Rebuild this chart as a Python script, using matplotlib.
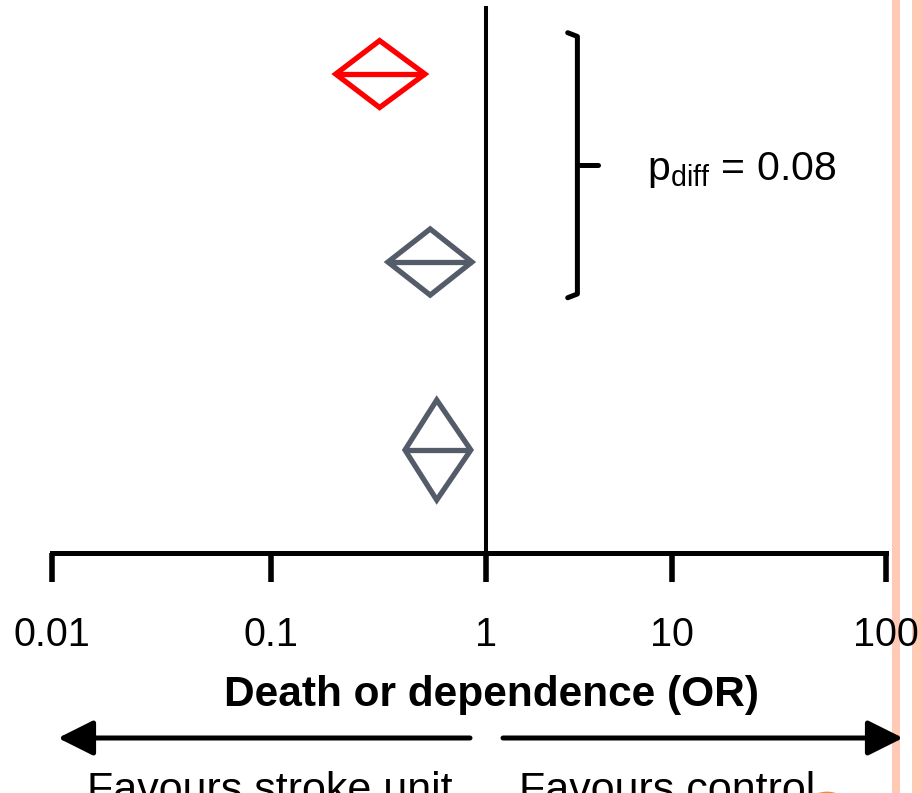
import numpy as np
import matplotlib
matplotlib.use("Agg")
import matplotlib.pyplot as plt
from matplotlib.patches import Rectangle, Circle, FancyArrowPatch, Polygon

plt.rcParams['font.family'] = ['Liberation Sans', 'DejaVu Sans']
plt.rcParams['mathtext.fontset'] = 'custom'
plt.rcParams['mathtext.rm'] = 'Liberation Sans'

# pooled odds ratios (estimate with 95% CI), top to bottom
or_est = [0.32, 0.55, 0.59]
or_lo = [0.20, 0.35, 0.42]
or_hi = [0.52, 0.86, 0.85]
row_pos = [2, 1, 0]
half_height = [0.178, 0.176, 0.266]
diamond_colors = ['#FF0000', '#545B69', '#545B69']

tick_vals = [0.01, 0.1, 1, 10, 100]
tick_labels = ['0.01', '0.1', '1', '10', '100']
p_diff = 0.08

W, H = 922, 793

# the printed axis is not evenly spaced per decade, so follow its knots
decades = np.log10(tick_vals)
knots = np.array([52, 271, 486, 672, 886], dtype=float)


def fwd(x):
    x = np.clip(np.asarray(x, dtype=float), 1e-12, None)
    return np.interp(np.log10(x), decades, knots)


def inv(p):
    return 10 ** np.interp(np.asarray(p, dtype=float), knots, decades)


def fig_xy(x, y):
    return x / W, 1 - y / H


fig = plt.figure(figsize=(W / 100, H / 100), dpi=100)
fig.patch.set_facecolor('white')

ax = fig.add_axes([52 / W, (H - 553) / H, 834 / W, 553 / H])
ax.patch.set_visible(False)
ax.set_xscale('function', functions=(fwd, inv))
ax.set_xlim(0.01, 100)
ax.set_ylim(-0.548, 2.394)

for lo, est, hi, y, h, c in zip(or_lo, or_est, or_hi, row_pos, half_height, diamond_colors):
    pts = [(lo, y), (est, y + h), (hi, y), (est, y - h)]
    ax.add_patch(Polygon(pts, closed=True, fill=False, edgecolor=c, lw=3.8,
                         joinstyle='miter', zorder=3))
    ax.plot([lo, hi], [y, y], color=c, lw=3.8, solid_capstyle='butt', zorder=3)

# line of no effect
ax.axvline(1, ymin=0, ymax=0.9855, color='black', lw=2.9, zorder=2)

# bracket grouping the first two estimates
bx, hook, tip = 3.1, 2.75, 4.0
top, bot = row_pos[0] + 0.22, row_pos[1] - 0.19
mid = (top + bot) / 2
ax.plot([hook, bx, bx, hook], [top, top - 0.02, bot + 0.02, bot], color='black',
        lw=3.6, solid_joinstyle='round', solid_capstyle='round', clip_on=False)
ax.plot([bx, tip], [mid, mid], color='black', lw=3.6, solid_capstyle='round')

ax.text(7.3, mid - 0.08, r'$\mathregular{p_{diff}}$ = %.2f' % p_diff, fontsize=29.5,
        ha='left', va='baseline')

for s in ['left', 'top', 'right']:
    ax.spines[s].set_visible(False)
ax.spines['bottom'].set_linewidth(3.6)
ax.spines['bottom'].set_capstyle('projecting')
ax.set_yticks([])
ax.set_xticks(tick_vals)
ax.set_xticklabels(tick_labels)
ax.xaxis.set_minor_locator(matplotlib.ticker.NullLocator())
ax.tick_params(axis='x', direction='out', length=21, width=4, pad=24,
               labelsize=28.5, color='black')

fig.text(*fig_xy(492, 706), 'Death or dependence (OR)', fontsize=30.5,
         fontweight='bold', ha='center', va='baseline')

# direction arrows
for x0, x1 in [(470, 58), (503, 903)]:
    arr = FancyArrowPatch(fig_xy(x0, 738), fig_xy(x1, 738), transform=fig.transFigure,
                          arrowstyle='-|>,head_length=0.8,head_width=0.4',
                          mutation_scale=27, lw=3.6, color='black',
                          shrinkA=0, shrinkB=0)
    fig.add_artist(arr)

fig.text(*fig_xy(270, 802), 'Favours stroke unit', fontsize=31, ha='center', va='baseline')
fig.text(*fig_xy(667, 802), 'Favours control', fontsize=31, ha='center', va='baseline')

# slide decoration on the right edge
for x0, x1 in [(892, 900), (912, 922)]:
    fig.add_artist(Rectangle(fig_xy(x0, H), (x1 - x0) / W, 1, transform=fig.transFigure,
                             facecolor='#FFC9B5', edgecolor='none', zorder=-1))
fig.add_artist(Circle(fig_xy(827, 814), 26 / W, transform=fig.transFigure,
                      facecolor='#F5873A', edgecolor='none', zorder=-1))

fig.savefig('out.png', dpi=100)
